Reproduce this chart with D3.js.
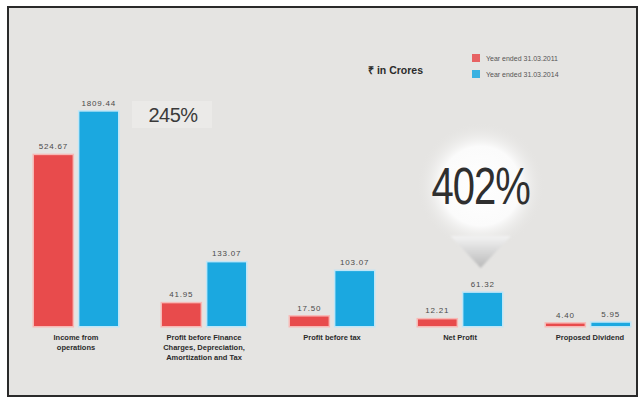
<!DOCTYPE html>
<html>
<head>
<meta charset="utf-8">
<script src="https://cdn.jsdelivr.net/npm/d3@7"></script>
<style>
  html, body { margin: 0; padding: 0; background: #ffffff; }
  svg { display: block; font-family: "Liberation Sans", Arial, sans-serif; }
</style>
</head>
<body>
<svg id="chart" width="641" height="402"></svg>
<script>
// Financial highlights, ₹ in Crores
const categories = [
  ["Income from", "operations"],
  ["Profit before Finance", "Charges, Depreciation,", "Amortization and Tax"],
  ["Profit before tax"],
  ["Net Profit"],
  ["Proposed Dividend"]
];
const seriesNames = ["Year ended 31.03.2011", "Year ended 31.03.2014"];
const values2011 = [524.67, 41.95, 17.50, 12.21, 4.40];
const values2014 = [1809.44, 133.07, 103.07, 61.32, 5.95];
const valueLabels2011 = ["524.67", "41.95", "17.50", "12.21", "4.40"];
const valueLabels2014 = ["1809.44", "133.07", "103.07", "61.32", "5.95"];
const legendTitle = "₹ in Crores";
const growthCallouts = [0, 3]; // categories with a growth figure

const colors = ["#e84b4c", "#1ba8e0"];
const glow = ["#f7b9b6", "#bfe6f7"];

const svg = d3.select("#chart");
const baseY = 326;

// panel
svg.append("rect").attr("x", 8).attr("y", 7).attr("width", 629).attr("height", 389)
  .attr("fill", "#e5e4e2").attr("stroke", "#2a2a2a").attr("stroke-width", 2);

const defs = svg.append("defs");
const rg = defs.append("radialGradient").attr("id", "bubble");
rg.append("stop").attr("offset", "0%").attr("stop-color", "#ffffff");
rg.append("stop").attr("offset", "62%").attr("stop-color", "#fbfbfb");
rg.append("stop").attr("offset", "100%").attr("stop-color", "#e5e4e2").attr("stop-opacity", 0);
const lg = defs.append("linearGradient").attr("id", "pointer")
  .attr("x1", 0).attr("y1", 0).attr("x2", 0).attr("y2", 1);
lg.append("stop").attr("offset", "0%").attr("stop-color", "#f3f3f3");
lg.append("stop").attr("offset", "100%").attr("stop-color", "#b9b9b9");
const soft = defs.append("filter").attr("id", "soft");
soft.append("feGaussianBlur").attr("stdDeviation", 1.2);

// scales
const x0 = d3.scaleBand().domain(d3.range(categories.length)).range([12, 652]).padding(0);
const x1 = d3.scaleBand().domain([0, 1]).range([22, 106]).paddingInner(0.15);
// compressed value axis: small values stay legible next to the large ones
const y = d3.scaleLinear().domain([0, 100, 500, 1800])
  .range([baseY, baseY - 54, baseY - 170, baseY - 214]);

const series = [values2011, values2014];
const labels = [valueLabels2011, valueLabels2014];

// growth bubble over Net Profit
const growth = i => Math.round((values2014[i] / values2011[i] - 1) * 100) + "%";
{
  const i = growthCallouts[1];
  const cx = x0(i) + x1(1) + x1.bandwidth() / 2 - 2;
  svg.append("circle").attr("cx", cx).attr("cy", 186).attr("r", 64).attr("fill", "url(#bubble)");
  svg.append("path")
    .attr("d", `M${cx - 30},236 L${cx + 30},236 L${cx},268 Z`)
    .attr("fill", "url(#pointer)").attr("filter", "url(#soft)");
  svg.append("text").attr("x", cx).attr("y", 0)
    .attr("transform", `translate(0,204) scale(1,1.3)`)
    .attr("text-anchor", "middle").attr("font-size", 40).attr("fill", "#2f2f2f")
    .attr("letter-spacing", -1)
    .text(growth(i));
}

// bars
const g = svg.append("g");
series.forEach((vals, s) => {
  g.selectAll(null).data(vals).join("rect")
    .attr("x", (d, i) => x0(i) + x1(s) - 1.5)
    .attr("y", d => y(d) - 1.5)
    .attr("width", x1.bandwidth() + 3)
    .attr("height", d => baseY - y(d) + 3)
    .attr("fill", glow[s]);
  g.selectAll(null).data(vals).join("rect")
    .attr("x", (d, i) => x0(i) + x1(s))
    .attr("y", d => y(d))
    .attr("width", x1.bandwidth())
    .attr("height", d => baseY - y(d))
    .attr("fill", colors[s]);
  g.selectAll(null).data(vals).join("text")
    .attr("x", (d, i) => x0(i) + x1(s) + x1.bandwidth() / 2)
    .attr("y", d => y(d) - 6)
    .attr("text-anchor", "middle")
    .attr("font-size", 8).attr("letter-spacing", 0.8)
    .attr("fill", "#4a4a4a")
    .text((d, i) => labels[s][i]);
});

// growth figure beside Income from operations
{
  const i = growthCallouts[0];
  svg.append("rect").attr("x", 132).attr("y", 101).attr("width", 80).attr("height", 27)
    .attr("fill", "#ebeae8");
  svg.append("text").attr("x", 173).attr("y", 122)
    .attr("text-anchor", "middle").attr("font-size", 20).attr("fill", "#3a3a3a")
    .attr("letter-spacing", -0.5)
    .text(growth(i));
}

// category labels
categories.forEach((lines, i) => {
  const cx = x0(i) + x0.bandwidth() / 2 + (i === 4 ? 2 : 0);
  const t = svg.append("text").attr("text-anchor", "middle")
    .attr("font-size", 7.5).attr("font-weight", "bold").attr("fill", "#2b2b2b");
  lines.forEach((ln, k) => {
    t.append("tspan").attr("x", cx).attr("y", 340 + k * 10).text(ln);
  });
});

// legend
svg.append("text").attr("x", 368).attr("y", 74)
  .attr("font-size", 10.5).attr("font-weight", "bold").attr("fill", "#2b2b2b")
  .text(legendTitle);
seriesNames.forEach((name, s) => {
  svg.append("rect").attr("x", 472).attr("y", 54 + s * 16).attr("width", 8).attr("height", 8)
    .attr("fill", colors[s]).attr("opacity", 0.85);
  svg.append("text").attr("x", 486).attr("y", 61 + s * 16)
    .attr("font-size", 7).attr("fill", "#555")
    .text(name);
});
</script>
</body>
</html>
